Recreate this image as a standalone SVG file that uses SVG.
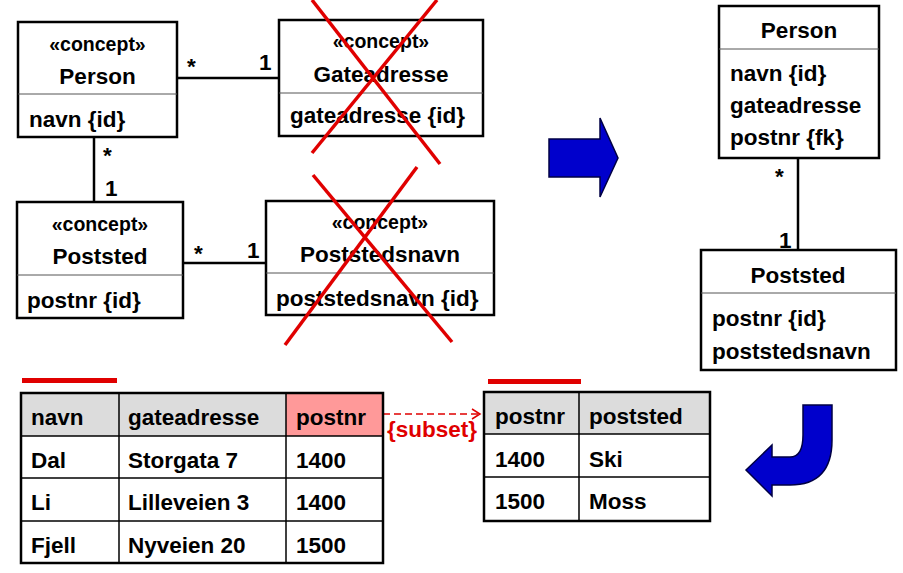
<svg xmlns="http://www.w3.org/2000/svg" width="903" height="573" viewBox="0 0 903 573">
<style>
text{font-family:"Liberation Sans",Arial,sans-serif;font-weight:bold;fill:#000}
.t{font-size:22.5px}
.s{font-size:19.5px}
.c{text-anchor:middle}
.box{fill:#fff;stroke:#000;stroke-width:2.5}
.div{stroke:#555;stroke-width:1}
.ln{stroke:#000;stroke-width:2.5;fill:none}
.x{stroke:#e00000;stroke-width:3.5}
.cell{stroke:#000;stroke-width:1.5}
.hd{fill:#dcdcdc}
.red{fill:#e00000}
.blue{fill:#0000cc;stroke:#000044;stroke-width:1.5}
</style>
<defs>
<marker id="open" markerWidth="12" markerHeight="12" refX="10" refY="6" orient="auto" markerUnits="userSpaceOnUse">
<path d="M2,1 L10,6 L2,11" fill="none" stroke="#e00000" stroke-width="1.5"/>
</marker>
</defs>

<g id="connectors">
<line class="ln" x1="177" y1="78" x2="279" y2="78"/>
<line class="ln" x1="94" y1="137" x2="94" y2="202"/>
<line class="ln" x1="183" y1="263" x2="266" y2="263"/>
<line class="ln" x1="798" y1="158" x2="798" y2="250"/>
<text class="t" x="187" y="74">*</text>
<text class="t" x="259" y="70">1</text>
<text class="t" x="103" y="163">*</text>
<text class="t" x="105" y="196">1</text>
<text class="t" x="194" y="261">*</text>
<text class="t" x="247" y="258">1</text>
<text class="t" x="775" y="184">*</text>
<text class="t" x="779" y="248">1</text>
<line x1="383" y1="414" x2="480" y2="414" stroke="#e00000" stroke-width="1.5" stroke-dasharray="7,4" marker-end="url(#open)"/>
<text class="t" x="387" y="437" style="fill:#e00000">{subset}</text>
</g>

<g id="person">
<rect class="box" x="18" y="22" width="159" height="115"/>
<line class="div" x1="18" y1="94" x2="177" y2="94"/>
<text class="s c" x="97.5" y="51">«concept»</text>
<text class="t c" x="97.5" y="84">Person</text>
<text class="t" x="29" y="127">navn {id}</text>
</g>

<g id="gateadresse">
<rect class="box" x="279" y="20" width="204" height="116"/>
<line class="div" x1="279" y1="93" x2="483" y2="93"/>
<text class="s c" x="381" y="48">«concept»</text>
<text class="t c" x="381" y="82">Gateadresse</text>
<text class="t" x="290" y="123">gateadresse {id}</text>
</g>

<g id="poststed">
<rect class="box" x="17" y="202" width="166" height="116"/>
<line class="div" x1="17" y1="275" x2="183" y2="275"/>
<text class="s c" x="100" y="231">«concept»</text>
<text class="t c" x="100" y="264">Poststed</text>
<text class="t" x="27" y="308">postnr {id}</text>
</g>

<g id="poststedsnavn">
<rect class="box" x="266" y="201" width="228" height="114"/>
<line class="div" x1="266" y1="273" x2="494" y2="273"/>
<text class="s c" x="380" y="229">«concept»</text>
<text class="t c" x="380" y="262">Poststedsnavn</text>
<text class="t" x="276" y="306">poststedsnavn {id}</text>
</g>

<g id="cross1">
<line class="x" x1="312" y1="0" x2="440" y2="164"/>
<line class="x" x1="437" y1="0" x2="312" y2="153"/>
</g>
<g id="cross2">
<line class="x" x1="313" y1="175" x2="452" y2="342"/>
<line class="x" x1="417" y1="167" x2="285" y2="345"/>
</g>

<g id="arrow-right">
<polygon class="blue" points="549,139 600,139 600,118 618,158 600,197 600,177 549,177"/>
</g>

<g id="person-r">
<rect class="box" x="719" y="6" width="160" height="152"/>
<line class="div" x1="719" y1="49" x2="879" y2="49"/>
<text class="t c" x="799" y="38">Person</text>
<text class="t" x="730" y="81">navn {id}</text>
<text class="t" x="730" y="113">gateadresse</text>
<text class="t" x="730" y="145">postnr {fk}</text>
</g>

<g id="poststed-r">
<rect class="box" x="701" y="250" width="195" height="120"/>
<line class="div" x1="701" y1="293" x2="896" y2="293"/>
<text class="t c" x="798" y="283">Poststed</text>
<text class="t" x="712" y="326">postnr {id}</text>
<text class="t" x="712" y="359">poststedsnavn</text>
</g>

<g id="arrow-curve">
<path class="blue" d="M803,405 L832,405 L832,440 Q832,485 790,485 L772,485 L772,496 L746,470 L772,445 L772,457 L790,457 Q803,457 803,435 Z"/>
</g>

<g id="table-person">
<rect x="22" y="378" width="95" height="5" class="red"/>
<rect x="21" y="393" width="362" height="43" class="hd"/>
<rect x="286" y="393" width="97" height="43" fill="#ff9999"/>
<line class="cell" x1="21" y1="436" x2="383" y2="436"/>
<line class="cell" x1="21" y1="478" x2="383" y2="478"/>
<line class="cell" x1="21" y1="521" x2="383" y2="521"/>
<line class="cell" x1="119" y1="393" x2="119" y2="563"/>
<line class="cell" x1="286" y1="393" x2="286" y2="563"/>
<rect x="21" y="393" width="362" height="170" fill="none" stroke="#000" stroke-width="2.5"/>
<text class="t" x="31" y="425">navn</text>
<text class="t" x="128" y="425">gateadresse</text>
<text class="t" x="296" y="425">postnr</text>
<text class="t" x="31" y="468">Dal</text>
<text class="t" x="128" y="468">Storgata 7</text>
<text class="t" x="296" y="468">1400</text>
<text class="t" x="31" y="510">Li</text>
<text class="t" x="128" y="510">Lilleveien 3</text>
<text class="t" x="296" y="510">1400</text>
<text class="t" x="31" y="553">Fjell</text>
<text class="t" x="128" y="553">Nyveien 20</text>
<text class="t" x="296" y="553">1500</text>
</g>

<g id="table-poststed">
<rect x="488" y="379" width="93" height="5" class="red"/>
<rect x="484" y="392" width="226" height="42" class="hd"/>
<line class="cell" x1="484" y1="434" x2="710" y2="434"/>
<line class="cell" x1="484" y1="477" x2="710" y2="477"/>
<line class="cell" x1="579" y1="392" x2="579" y2="521"/>
<rect x="484" y="392" width="226" height="129" fill="none" stroke="#000" stroke-width="2.5"/>
<text class="t" x="495" y="424">postnr</text>
<text class="t" x="589" y="424">poststed</text>
<text class="t" x="495" y="467">1400</text>
<text class="t" x="589" y="467">Ski</text>
<text class="t" x="495" y="509">1500</text>
<text class="t" x="589" y="509">Moss</text>
</g>
</svg>
